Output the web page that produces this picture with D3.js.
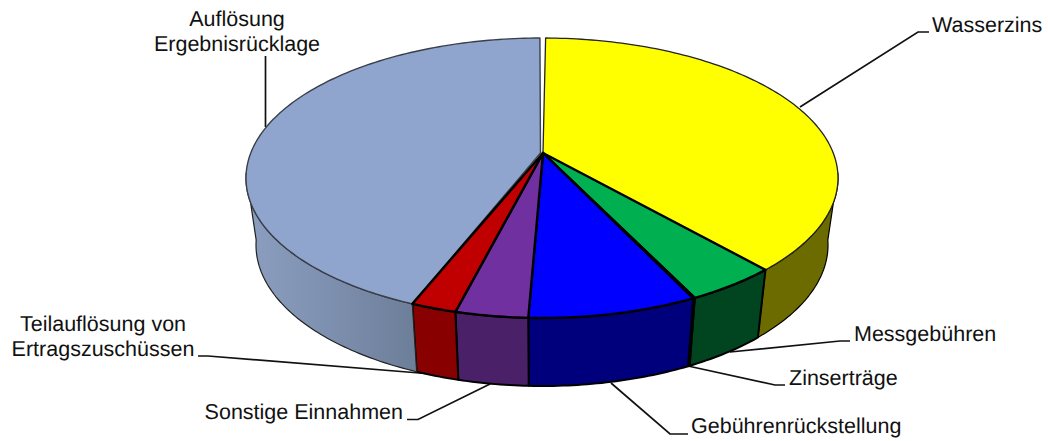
<!DOCTYPE html>
<html>
<head>
<meta charset="utf-8">
<script src="https://cdn.jsdelivr.net/npm/d3@7"></script>
<style>
  html, body { margin: 0; background: #fff; }
  svg { display: block; }
  text { font-family: "Liberation Sans", Arial, sans-serif; font-size: 21.5px; fill: #111; text-rendering: geometricPrecision; }
</style>
</head>
<body>
<div id="chart"></div>
<script>
// data (share in %)
const categories = ["Wasserzins", "Messgebühren", "Zinserträge", "Gebührenrückstellung",
  "Sonstige Einnahmen", "Teilauflösung von Ertragszuschüssen", "Auflösung Ergebnisrücklage"];
const shares = [36.3, 5.0, 0.1, 9.3, 4.0, 2.5, 42.8];

const topColors  = ["#ffff00", "#00b050", "#00b050", "#0000ff", "#7030a0", "#c00000", "#8fa5cd"];
const wallColors = ["#6b6b00", "#00451f", "#00451f", "#00007c", "#4a2068", "#880000", "url(#wallLight)"];

// label text lines, and leader polyline for each category
const labelLines = [
  ["Wasserzins"], ["Messgebühren"], ["Zinserträge"], ["Gebührenrückstellung"],
  ["Sonstige Einnahmen"], ["Teilauflösung von", "Ertragszuschüssen"], ["Auflösung", "Ergebnisrücklage"]
];
const labelPos = [
  { x: 932, y: 32, anchor: "start" },
  { x: 854, y: 341, anchor: "start" },
  { x: 789, y: 385, anchor: "start" },
  { x: 691, y: 433, anchor: "start" },
  { x: 403, y: 419, anchor: "end" },
  { x: 103, y: 331, anchor: "middle" },
  { x: 237, y: 26, anchor: "middle" }
];
const leaders = [
  [[800, 107], [918, 32], [929, 32]],
  [[730, 352], [840, 341], [850, 341]],
  [[688, 366], [775, 385], [785, 385]],
  [[611, 383], [670, 434], [688, 434]],
  [[490, 384], [418, 419.5], [407, 419.5]],
  [[432, 374], [208, 356], [198, 356]],
  [[265.5, 127], [265.5, 56]]
];

(() => {
  const width = 1048, height = 441;

  // tilted disc: upper and lower rim are separate ellipses, the centre sits off-axis
  const rimTop    = { cx: 542, cy: 178, rx: 296, ry: 140 };
  const rimBottom = { cx: 542, cy: 245, rx: 286, ry: 141 };
  const apex = [543, 153];
  const apexLight = [540.5, 153]; // last slice is pulled out a little

  const rad = d => d * Math.PI / 180;

  const pie = d3.pie().sort(null)
    .startAngle(rad(0.7))
    .endAngle(2 * Math.PI - rad(0.4));
  const arcs = pie(shares);

  const onRim = (rim, t) => [rim.cx + rim.rx * Math.sin(t), rim.cy - rim.ry * Math.cos(t)];
  const rimPoints = (rim, a, b) => {
    const n = Math.max(2, Math.ceil(Math.abs(b - a) / rad(1)));
    return d3.range(n + 1).map(i => onRim(rim, a + (b - a) * i / n));
  };
  const line = d3.line();

  const svg = d3.select("#chart").append("svg")
    .attr("width", width)
    .attr("height", height);

  const grad = svg.append("defs").append("linearGradient")
    .attr("id", "wallLight")
    .attr("gradientUnits", "userSpaceOnUse")
    .attr("x1", 250).attr("x2", 415).attr("y1", 0).attr("y2", 0);
  grad.append("stop").attr("offset", 0).attr("stop-color", "#8c9ebf");
  grad.append("stop").attr("offset", 0.5).attr("stop-color", "#7d8fae");
  grad.append("stop").attr("offset", 1).attr("stop-color", "#6d7e99");

  // leaders go under the disc
  svg.append("g").selectAll("path")
    .data(leaders)
    .join("path")
    .attr("d", d => line(d))
    .attr("fill", "none")
    .attr("stroke", "#111")
    .attr("stroke-width", 1.7);

  // side walls, only the front half of the disc is visible
  const frontStart = rad(88), frontEnd = rad(272);
  svg.append("g").selectAll("path")
    .data(arcs.filter(d => d.endAngle > frontStart && d.startAngle < frontEnd))
    .join("path")
    .attr("d", d => {
      const a = Math.max(d.startAngle, frontStart), b = Math.min(d.endAngle, frontEnd);
      return line(rimPoints(rimTop, a, b).concat(rimPoints(rimBottom, b, a))) + "Z";
    })
    .attr("fill", d => wallColors[d.index])
    .attr("stroke", d => d.index === 6 ? "#222" : "#000")
    .attr("stroke-width", d => d.index === 6 || d.index === 0 ? 1.2 : 2)
    .attr("stroke-linejoin", "round");

  // top faces: big slices first so the small ones' dark edges stay on top
  const drawOrder = [6, 0, 1, 2, 3, 4, 5];
  svg.append("g").selectAll("path")
    .data(drawOrder.map(i => arcs[i]))
    .join("path")
    .attr("d", d => line([d.index === 6 ? apexLight : apex].concat(rimPoints(rimTop, d.startAngle, d.endAngle))) + "Z")
    .attr("fill", d => topColors[d.index])
    .attr("stroke", d => d.index === 6 ? "#3a3f4a" : d.index === 0 ? "#222" : "#000")
    .attr("stroke-width", d => d.index === 6 ? 1.4 : d.index === 0 ? 1.3 : 2.4)
    .attr("stroke-linejoin", "round");

  // labels
  svg.append("g").selectAll("text")
    .data(categories)
    .join("text")
    .attr("text-anchor", (d, i) => labelPos[i].anchor)
    .attr("y", (d, i) => labelPos[i].y)
    .each(function (d, i) {
      d3.select(this).selectAll("tspan")
        .data(labelLines[i])
        .join("tspan")
        .attr("x", labelPos[i].x)
        .attr("dy", (l, j) => j ? 25 : 0)
        .text(l => l);
    });
})();
</script>
</body>
</html>
